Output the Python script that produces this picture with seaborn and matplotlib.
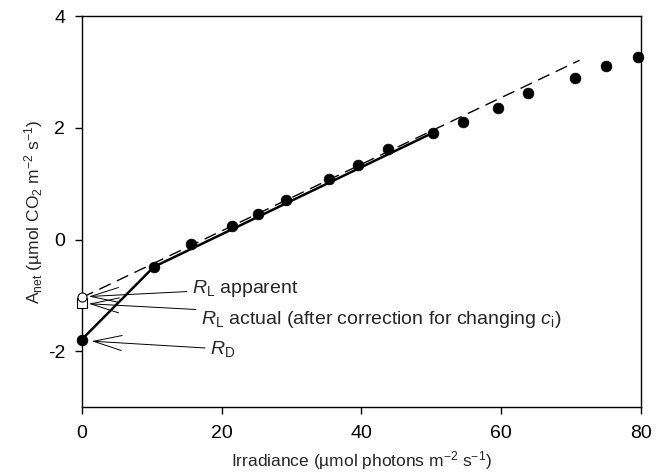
import matplotlib
matplotlib.use("Agg")
import matplotlib.pyplot as plt
import seaborn as sns
import pandas as pd

# ---- data ----
irradiance = [0.0, 10.3, 15.6, 21.5, 25.2, 29.2, 35.3, 39.5, 43.8, 50.2,
              54.6, 59.5, 63.8, 70.5, 75.0, 79.5]
a_net = [-1.79, -0.49, -0.08, 0.24, 0.46, 0.71, 1.08, 1.33, 1.62, 1.91,
         2.11, 2.35, 2.62, 2.89, 3.11, 3.27]

# solid fitted lines (Kok effect breakpoint)
solid_x = [0.0, 10.3, 50.2]
solid_y = [-1.79, -0.49, 1.91]
# dashed extrapolation
dash_x = [0.0, 71.2]
dash_y = [-1.04, 3.21]

rl_apparent = -1.03
rl_actual = -1.14
rd_value = -1.79

x_ticks = [0, 20, 40, 60, 80]
y_ticks = [-2, 0, 2, 4]

sns.set_theme(style="ticks")
plt.rcParams["font.family"] = ["Liberation Sans", "DejaVu Sans"]
plt.rcParams["mathtext.fontset"] = "custom"
plt.rcParams["mathtext.rm"] = "Liberation Sans"
plt.rcParams["mathtext.it"] = "Liberation Sans:italic"
plt.rcParams["mathtext.bf"] = "Liberation Sans:bold"
plt.rcParams["axes.unicode_minus"] = False

fig = plt.figure(figsize=(6.65, 4.75), dpi=100)
ax = fig.add_axes([0.123, 0.143, 0.841, 0.823])

df_sol = pd.DataFrame({"x": solid_x, "y": solid_y})
df_dash = pd.DataFrame({"x": dash_x, "y": dash_y})
df_pts = pd.DataFrame({"x": irradiance, "y": a_net})

sns.lineplot(data=df_dash, x="x", y="y", ax=ax, color="black", lw=1.0,
             linestyle=(0, (9, 5)), sort=False, estimator=None)
sns.lineplot(data=df_sol, x="x", y="y", ax=ax, color="black", lw=1.8,
             sort=False, estimator=None)
sns.scatterplot(data=df_pts, x="x", y="y", ax=ax, color="black", s=60,
                edgecolor="black", linewidth=0.5, zorder=5, clip_on=False)

ax.plot([0], [rl_actual], marker="s", ms=6.5, mfc="white", mec="black",
        mew=0.8, clip_on=False, zorder=6, ls="none")
ax.plot([0], [rl_apparent], marker="o", ms=6.5, mfc="white", mec="black",
        mew=0.8, clip_on=False, zorder=7, ls="none")

arrow = dict(arrowstyle="->,head_length=1.7,head_width=0.45", color="black",
             lw=0.7, mutation_scale=12, shrinkA=1, shrinkB=0)
ax.annotate(r"$R_\mathrm{L}$ apparent", xy=(1.0, -1.02), xytext=(15.7, -0.88),
            fontsize=14, va="center", ha="left", arrowprops=arrow)
ax.annotate(r"$R_\mathrm{L}$ actual (after correction for changing $c_\mathrm{i}$)",
            xy=(1.0, -1.15), xytext=(17.0, -1.43),
            fontsize=14, va="center", ha="left", arrowprops=arrow)
ax.annotate(r"$R_\mathrm{D}$", xy=(1.4, -1.82), xytext=(18.3, -1.96),
            fontsize=14, va="center", ha="left", arrowprops=arrow)

ax.set_xlim(0, 80)
ax.set_ylim(-3, 4)
ax.set_xticks(x_ticks)
ax.set_yticks(y_ticks)
ax.tick_params(direction="out", length=5, width=1, labelsize=14, colors="black")
ax.tick_params(axis="x", pad=8)
ax.tick_params(axis="y", pad=7)
for s in ax.spines.values():
    s.set_color("black")
    s.set_linewidth(1.0)

ax.set_xlabel(r"Irradiance (µmol photons m$^{-2}$ s$^{-1}$)", fontsize=12.5,
              labelpad=5)
ax.set_ylabel(r"$\mathrm{A}_\mathrm{net}$ (µmol CO$_2$ m$^{-2}$ s$^{-1}$)", fontsize=12.5,
              labelpad=2)

fig.savefig("out.png", dpi=100)
